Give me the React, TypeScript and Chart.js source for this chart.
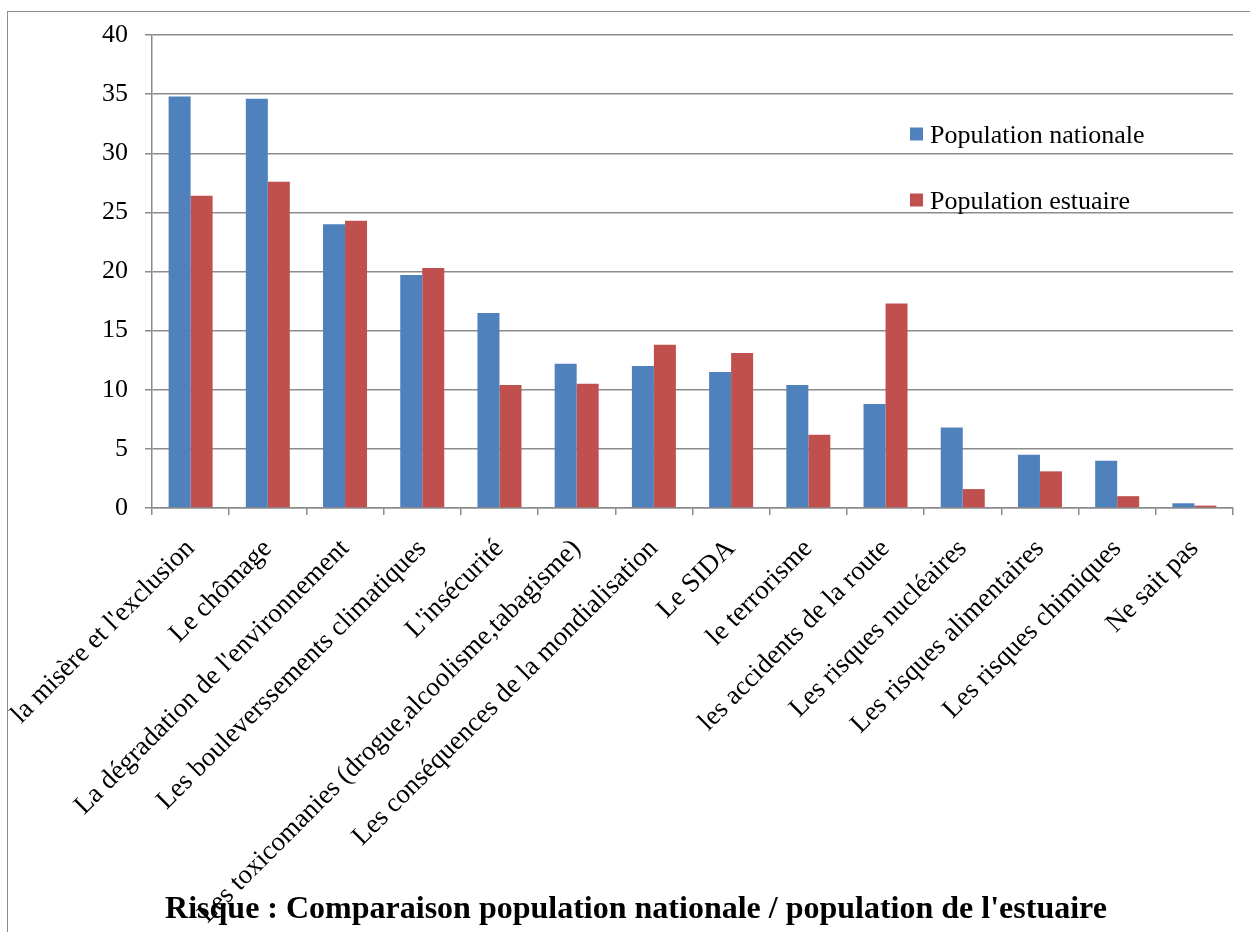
import React, { useEffect, useRef } from "react";
import { Chart, registerables } from "chart.js";

Chart.register(...registerables);

const categories = [
  "la misère et l'exclusion",
  "Le chômage",
  "La dégradation de l'environnement",
  "Les bouleverssements climatiques",
  "L'insécurité",
  "Les toxicomanies (drogue,alcoolisme,tabagisme)",
  "Les conséquences de la mondialisation",
  "Le SIDA",
  "le terrorisme",
  "les accidents de la route",
  "Les risques nucléaires",
  "Les risques alimentaires",
  "Les risques chimiques",
  "Ne sait pas",
];

const nationale = [34.8, 34.6, 24.0, 19.7, 16.5, 12.2, 12.0, 11.5, 10.4, 8.8, 6.8, 4.5, 4.0, 0.4];
const estuaire = [26.4, 27.6, 24.3, 20.3, 10.4, 10.5, 13.8, 13.1, 6.2, 17.3, 1.6, 3.1, 1.0, 0.2];

const seriesLabels = ["Population nationale", "Population estuaire"];
const seriesColors = ["#4F81BD", "#C0504D"];
const yMin = 0;
const yMax = 40;
const yStep = 5;
const titleText = "Risque : Comparaison population nationale / population de l'estuaire";

const FONT = '"Liberation Serif", "Times New Roman", serif';
const GRID = "#8c8c8c";

const legendPlugin = {
  id: "insideLegend",
  afterDraw(chart: any) {
    const ctx = chart.ctx;
    const { left, top } = chart.chartArea;
    ctx.save();
    chart.data.datasets.forEach((ds: any, i: number) => {
      const baseline = top + 108 + i * 66;
      ctx.fillStyle = ds.backgroundColor;
      ctx.fillRect(left + 758, baseline - 15.5, 13, 13);
      ctx.fillStyle = "#000";
      ctx.font = `26px ${FONT}`;
      ctx.textAlign = "left";
      ctx.textBaseline = "alphabetic";
      ctx.fillText(ds.label, left + 778, baseline);
    });
    ctx.restore();
  },
};

const titlePlugin = {
  id: "bottomTitle",
  afterDraw(chart: any) {
    const ctx = chart.ctx;
    ctx.save();
    ctx.fillStyle = "#000";
    ctx.font = `bold 32px ${FONT}`;
    ctx.textAlign = "center";
    ctx.textBaseline = "alphabetic";
    ctx.fillText(titleText, 636, 918);
    ctx.restore();
  },
};

export default function App() {
  const canvasRef = useRef<HTMLCanvasElement | null>(null);

  useEffect(() => {
    if (!canvasRef.current) return;
    const chart = new Chart(canvasRef.current, {
      type: "bar",
      data: {
        labels: categories,
        datasets: [
          {
            label: seriesLabels[0],
            data: nationale,
            backgroundColor: seriesColors[0],
            categoryPercentage: 0.57,
            barPercentage: 1.0,
          },
          {
            label: seriesLabels[1],
            data: estuaire,
            backgroundColor: seriesColors[1],
            categoryPercentage: 0.57,
            barPercentage: 1.0,
          },
        ],
      },
      options: {
        animation: false,
        responsive: true,
        maintainAspectRatio: false,
        devicePixelRatio: 1,
        layout: { padding: { left: 0, top: 35, right: 17, bottom: 0 } },
        plugins: {
          legend: { display: false },
          title: { display: false },
          tooltip: { enabled: false },
        },
        scales: {
          x: {
            afterFit(scale: any) {
              scale.height = 424;
              scale.paddingLeft = 0;
              scale.paddingRight = 0;
            },
            grid: {
              offset: true,
              drawOnChartArea: false,
              drawTicks: true,
              tickLength: 7,
              color: GRID,
              lineWidth: 1.5,
            },
            border: { color: GRID, width: 1.5 },
            ticks: {
              autoSkip: false,
              maxRotation: 45,
              minRotation: 45,
              padding: 18,
              color: "#000",
              font: { family: FONT, size: 27 },
            },
          },
          y: {
            min: yMin,
            max: yMax,
            afterFit(scale: any) {
              scale.width = 152;
              scale.paddingTop = 0;
              scale.paddingBottom = 0;
            },
            ticks: {
              stepSize: yStep,
              padding: 17,
              color: "#000",
              font: { family: FONT, size: 26 },
            },
            grid: {
              color: GRID,
              lineWidth: 1.5,
              tickLength: 7,
            },
            border: { color: GRID, width: 1.5 },
          },
        },
      },
      plugins: [legendPlugin, titlePlugin],
    });
    return () => chart.destroy();
  }, []);

  return (
    <div
      style={{
        position: "fixed",
        left: 0,
        top: 0,
        width: 1250,
        height: 932,
        overflow: "hidden",
        background: "#fff",
      }}
    >
      <div
        style={{
          position: "absolute",
          left: 7,
          top: 11,
          width: 1300,
          height: 1000,
          borderLeft: "1.5px solid #8c8c8c",
          borderTop: "1.5px solid #8c8c8c",
        }}
      />
      <div style={{ position: "absolute", left: 0, top: 0, width: 1250, height: 932 }}>
        <canvas ref={canvasRef} />
      </div>
    </div>
  );
}
